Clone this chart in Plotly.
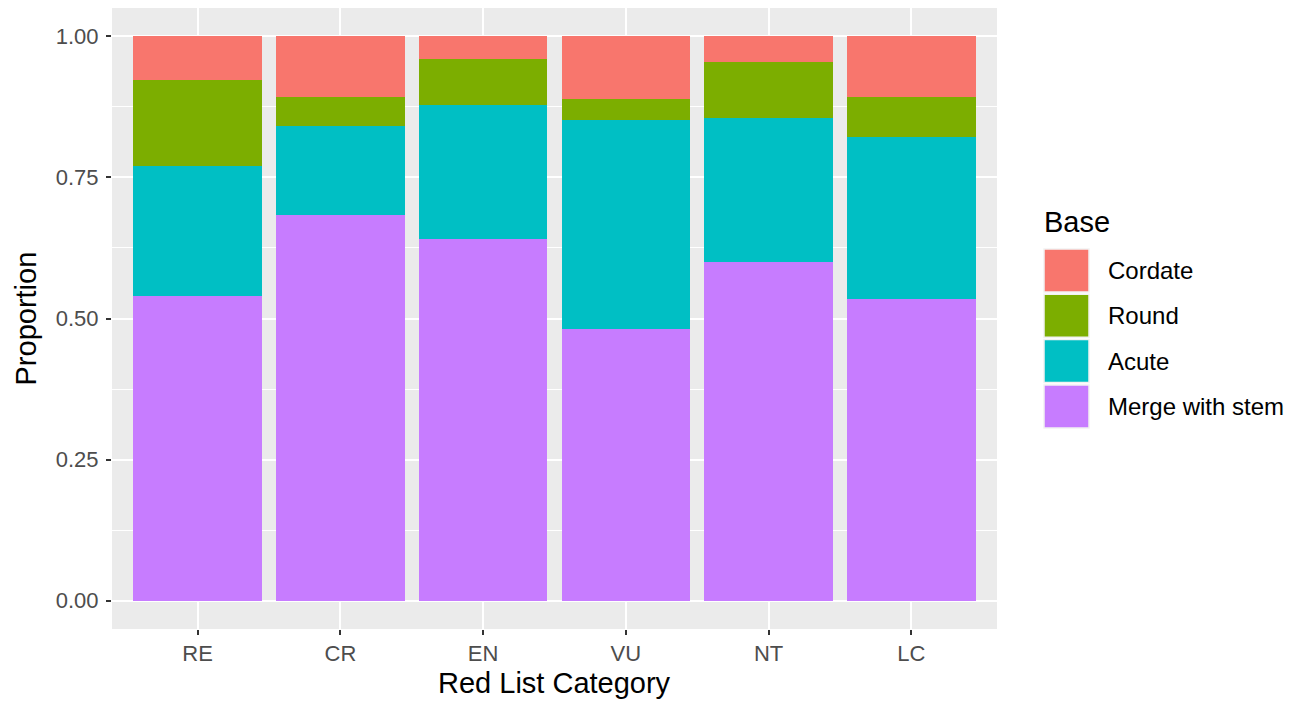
import plotly.graph_objects as go

categories = ["RE", "CR", "EN", "VU", "NT", "LC"]
merge_with_stem = [0.539, 0.684, 0.640, 0.481, 0.600, 0.534]
acute = [0.231, 0.157, 0.239, 0.370, 0.255, 0.287]
round_ = [0.153, 0.052, 0.080, 0.037, 0.100, 0.072]
cordate = [0.077, 0.107, 0.041, 0.112, 0.045, 0.107]
y_tick_values = [0, 0.25, 0.5, 0.75, 1.0]
y_tick_labels = ["0.00", "0.25", "0.50", "0.75", "1.00"]

series = [
    ("Merge with stem", merge_with_stem, "#C77CFF"),
    ("Acute", acute, "#00BFC4"),
    ("Round", round_, "#7CAE00"),
    ("Cordate", cordate, "#F8766D"),
]
legend_order = ["Cordate", "Round", "Acute", "Merge with stem"]
colors = {name: c for name, _, c in series}

FONT = "Liberation Sans, Arial, Helvetica, sans-serif"
OFF = 8  # browser body margin
W, H = 1298, 696
# panel in page coordinates: x 112..997, y 8..629
PL, PR, PT, PB = 112, 997, 8, 629
L, T = PL - OFF, PT - OFF
R = W - (PR - OFF)
B = H - (PB - OFF)
pw, ph = PR - PL, PB - PT

def px2paper(x, y):
    # page pixel coordinates -> paper coordinates
    return (x - PL) / pw, (PB - y) / ph

fig = go.Figure()
for name, vals, col in series:
    fig.add_trace(go.Bar(
        x=categories, y=vals, name=name, width=0.9,
        marker=dict(color=col, line=dict(width=0)),
        showlegend=False,
    ))

shapes = []
annotations = []
# custom ggplot-style legend
tx, ty = px2paper(1042, 222)
annotations.append(dict(x=tx, y=ty, xref="paper", yref="paper", text="Base",
                        showarrow=False, xanchor="left", yanchor="middle",
                        font=dict(family=FONT, size=29, color="#000000")))
key_top = 249
pitch = 45.3
for i, name in enumerate(legend_order):
    y0 = key_top + i * pitch
    y1 = y0 + 43
    x0p, y0p = px2paper(1044, y1)
    x1p, y1p = px2paper(1089, y0)
    shapes.append(dict(type="rect", xref="paper", yref="paper",
                       x0=x0p, y0=y0p, x1=x1p, y1=y1p,
                       fillcolor=colors[name], line=dict(color="#F2F2F2", width=1.5)))
    lx, ly = px2paper(1106, (y0 + y1) / 2)
    annotations.append(dict(x=lx, y=ly, xref="paper", yref="paper", text=name,
                            showarrow=False, xanchor="left", yanchor="middle",
                            font=dict(family=FONT, size=24, color="#000000")))

# axis titles
ax, ay = px2paper(554.5, 683)
annotations.append(dict(x=ax, y=ay, xref="paper", yref="paper", text="Red List Category",
                        showarrow=False, xanchor="center", yanchor="middle",
                        font=dict(family=FONT, size=29, color="#000000")))
bx, by = px2paper(25, 318.5)
annotations.append(dict(x=bx, y=by, xref="paper", yref="paper", text="Proportion",
                        showarrow=False, xanchor="center", yanchor="middle", textangle=-90,
                        font=dict(family=FONT, size=29, color="#000000")))

fig.update_layout(
    width=W, height=H,
    margin=dict(l=L, r=R, t=T, b=B, pad=0),
    barmode="stack",
    plot_bgcolor="#EBEBEB",
    paper_bgcolor="#FFFFFF",
    font=dict(family=FONT, size=22, color="#4D4D4D"),
    shapes=shapes,
    annotations=annotations,
    xaxis=dict(
        type="category", range=[-0.6, 5.6],
        showgrid=True, gridcolor="#FFFFFF", gridwidth=2,
        ticks="outside", ticklen=5, tickwidth=1.5, tickcolor="#333333",
        tickfont=dict(family=FONT, size=22, color="#4D4D4D"),
        zeroline=False, showline=False,
    ),
    yaxis=dict(
        range=[-0.05, 1.05],
        tickvals=y_tick_values,
        ticktext=y_tick_labels,
        showgrid=True, gridcolor="#FFFFFF", gridwidth=2,
        minor=dict(tickvals=[0.125, 0.375, 0.625, 0.875], showgrid=True,
                   gridcolor="#FFFFFF", gridwidth=1, ticks=""),
        ticks="outside", ticklen=5, tickwidth=1.5, tickcolor="#333333",
        tickfont=dict(family=FONT, size=22, color="#4D4D4D"),
        ticklabelstandoff=3,
        zeroline=False, showline=False,
    ),
)

fig.write_html("out.html")
